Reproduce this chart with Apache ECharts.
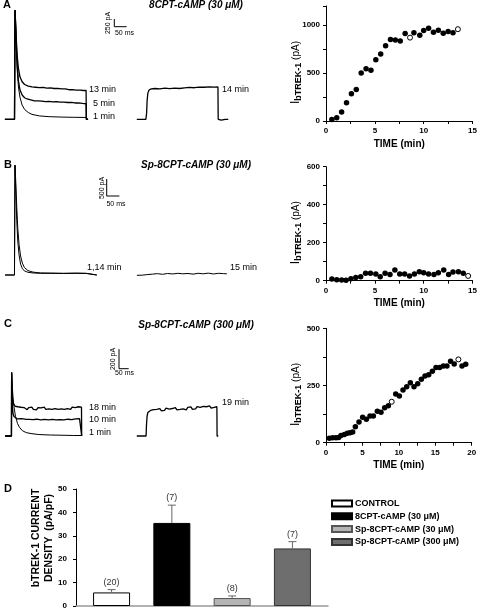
<!DOCTYPE html>
<html><head><meta charset="utf-8">
<script src="https://cdn.jsdelivr.net/npm/echarts@6/dist/echarts.min.js"></script>
<style>html,body{margin:0;padding:0;background:#fff}#c{width:480px;height:610px}</style>
</head><body><div id="c"></div>
<script>
// ---------------- DATA ----------------
// Panel A current traces (ms, pA)
const traceA1 = [[20,0],[59,0],[61,3550],[64,2900],[67,2200],[70,1600],[75,1050],[81,720],[90,460],[100,320],[115,220],[130,160],[160,110],[200,85],[260,70],[300,65],[350,60],[351,0],[358,0]];
const traceA5 = [[20,0],[59,0],[61,3550],[64,2950],[67,2300],[70,1750],[75,1250],[81,960],[90,790],[100,700],[110,660],[125,630],[140,600],[155,595],[170,590],[185,575],[200,585],[215,565],[230,575],[245,555],[260,560],[275,545],[290,550],[305,530],[320,535],[335,515],[350,505],[351,0],[358,0]];
const traceA13 = [[20,0],[59,0],[61,3550],[64,3050],[67,2500],[70,2050],[75,1650],[81,1380],[90,1220],[100,1130],[115,1080],[130,1050],[145,1040],[160,1030],[175,1035],[190,1015],[205,1020],[220,1000],[235,1005],[250,985],[265,990],[280,960],[295,965],[310,945],[325,950],[340,935],[350,940],[351,0],[358,0]];
const traceA14 = [[556,0],[593,0],[596,200],[598,600],[601,850],[606,950],[615,990],[630,1000],[650,985],[670,1010],[690,995],[710,1015],[730,1000],[750,1020],[770,1035],[790,1025],[810,1045],[830,1040],[850,1055],[870,1045],[886,1050],[887,0],[900,-30],[915,0],[928,0]];
// Panel B current traces (ms, pA)
const traceB1 = [[20,0],[57,0],[59,3230],[62,2500],[66,1600],[70,1000],[75,590],[81,320],[88,190],[96,120],[110,80],[130,60],[160,50],[200,50],[250,45],[300,50],[340,45],[342,0],[381,0]];
const traceB14 = [[20,0],[57,0],[59,3230],[62,2750],[66,2000],[70,1380],[75,900],[81,560],[88,350],[96,220],[110,130],[130,85],[160,60],[200,55],[250,50],[300,55],[340,50],[342,0],[381,0]];
const traceB15 = [[539,-10],[560,-5],[578,10],[585,30],[600,25],[620,40],[640,20],[660,45],[680,30],[700,50],[720,35],[740,45],[760,25],[780,50],[800,35],[820,55],[840,30],[860,50],[880,40],[893,35]];
// Panel C current traces (ms, pA)
const traceC1 = [[26,0],[59,0],[60,650],[63,520],[67,400],[72,300],[80,200],[90,130],[100,90],[115,55],[135,35],[160,25],[200,15],[260,10],[320,8],[380,5],[420,5],[421,0]];
const traceC10 = [[26,0],[59,0],[60,650],[62,420],[64,300],[67,230],[72,200],[80,185],[90,175],[100,165],[110,178],[120,160],[130,172],[140,158],[150,170],[160,155],[170,168],[180,160],[190,172],[200,155],[210,165],[220,158],[230,170],[240,152],[250,165],[260,160],[270,170],[280,150],[290,165],[300,158],[310,168],[320,155],[330,165],[340,160],[350,172],[360,158],[370,168],[380,162],[390,175],[400,165],[410,178],[420,175],[421,0]];
const traceC18 = [[26,0],[59,0],[60,650],[62,500],[64,400],[67,340],[72,320],[78,305],[85,290],[92,300],[100,280],[108,295],[116,275],[124,292],[132,283],[140,270],[148,292],[156,278],[164,296],[172,272],[180,288],[188,268],[196,292],[204,278],[212,288],[220,268],[228,296],[236,272],[244,288],[252,278],[260,292],[268,272],[276,288],[284,282],[292,296],[300,272],[308,288],[316,278],[324,296],[332,272],[340,292],[348,282],[356,288],[364,272],[372,296],[380,278],[388,292],[396,282],[404,300],[412,286],[420,296],[421,0]];
const traceC19 = [[705,0],[753,0],[755,110],[758,200],[762,240],[768,252],[776,262],[784,250],[792,270],[800,255],[808,274],[816,260],[824,280],[832,258],[840,272],[848,262],[856,285],[864,266],[872,276],[880,262],[888,282],[896,272],[904,292],[912,268],[920,282],[928,272],[936,292],[944,278],[952,288],[960,268],[968,294],[976,278],[984,298],[992,274],[1000,288],[1008,278],[1016,302],[1024,284],[1032,294],[1040,280],[1048,304],[1056,286],[1064,300],[1072,290],[1080,308],[1088,286],[1096,304],[1104,294],[1112,308],[1118,300],[1119,0],[1125,0]];

// Time courses (min, pA): filled = bTREK-1 current, open = traces shown
const courseAFilled = [[0.6,15],[1.1,35],[1.6,95],[2.1,190],[2.6,285],[3.1,330],[3.6,500],[4.1,545],[4.6,530],[5.1,640],[5.6,700],[6.1,785],[6.6,850],[7.1,845],[7.6,835],[8.1,912],[9.0,922],[9.6,895],[10.0,945],[10.5,968],[11.0,927],[11.5,948],[12.0,915],[12.5,933],[13.0,920]];
const courseAOpen = [[8.6,870],[13.5,958]];
const courseBFilled = [[0.6,9],[1.1,5],[1.6,3.5],[2.05,2],[2.55,10],[3.05,17],[3.55,21],[4.05,39],[4.55,39],[5.1,35],[5.55,21],[6.05,39],[6.55,33],[7.05,56],[7.55,35],[8.05,35],[8.55,25],[9.05,35],[9.55,47],[10.0,42],[10.5,35],[11.05,32],[11.5,42],[12.05,56],[12.55,33],[13.0,46],[13.55,47],[14.05,39]];
const courseBOpen = [[14.55,25]];
const courseCFilled = [[0.46,19],[0.92,22],[1.37,22],[1.74,23],[2.06,32],[2.52,36],[2.93,41],[3.3,44],[3.66,47],[4.03,70],[4.53,90],[5.03,111],[5.54,103],[6.04,117],[6.5,117],[7.05,138],[7.55,133],[8.05,153],[8.56,162],[9.57,213],[10.07,204],[10.57,230],[11.08,245],[11.58,262],[12.08,245],[12.59,258],[13.09,277],[13.59,292],[14.1,297],[14.6,312],[15.1,329],[15.6,329],[16.1,335],[16.6,335],[17.1,356],[17.6,344],[18.67,335],[19.18,343]];
const courseCOpen = [[9.02,179],[18.17,364]];

// Panel D: current density
const groups = ['CONTROL', '8CPT-cAMP (30 \u03bcM)', 'Sp-8CPT-cAMP (30 \u03bcM)', 'Sp-8CPT-cAMP (300 \u03bcM)'];
const densityMean = [5.8, 35.5, 3.4, 24.6];
const densitySem = [1.2, 7.6, 0.9, 2.9];
const cellCounts = [20, 7, 8, 7];

// ---------------- LAYOUT ----------------
const FONT = 'Liberation Sans, Arial, Helvetica, sans-serif';
const groupColors = ['#ffffff', '#000000', '#b4b4b4', '#6e6e6e'];
const groupBorders = ['#000000', '#000000', '#555555', '#333333'];

// trace panel scales (px per unit from scale bars)
const TR = [
  {top:0, height:135, base:119.3, msPx:50/12.3, paPx:250/7.7, bar:{x:114.3, y:26.7, dt:50, di:250}},
  {top:140, height:145, base:275, msPx:50/12.7, paPx:500/17, bar:{x:106.7, y:196, dt:50, di:500}},
  {top:290, height:150, base:436, msPx:50/9.7, paPx:200/19.5, bar:{x:119, y:368.7, dt:50, di:200}}
];

const grids = [], xAxes = [], yAxes = [], series = [];
TR.forEach((p, i) => {
  grids.push({left:0, top:p.top, width:290, height:p.height});
  xAxes.push({type:'value', gridIndex:i, min:0, max:290*p.msPx, show:false});
  yAxes.push({type:'value', gridIndex:i, min:-(p.top+p.height-p.base)*p.paPx, max:(p.base-p.top)*p.paPx, show:false});
  const t0 = p.bar.x*p.msPx, i0 = (p.base-p.bar.y)*p.paPx;
  series.push({type:'line', xAxisIndex:i, yAxisIndex:i, showSymbol:false, symbol:'none', silent:true,
    lineStyle:{color:'#000', width:1}, data:[[t0, i0+p.bar.di],[t0, i0],[t0+p.bar.dt, i0]]});
});
function trace(data, gi, w) {
  return {type:'line', xAxisIndex:gi, yAxisIndex:gi, data:data, showSymbol:false, symbol:'none', silent:true,
    lineStyle:{color:'#000', width:w||1}};
}
series.push(trace(traceA1,0,1), trace(traceA5,0,1.3), trace(traceA13,0,1.3), trace(traceA14,0,1.3));
series.push(trace(traceB1,1,1), trace(traceB14,1,1), trace(traceB15,1,1));
series.push(trace(traceC1,2,1), trace(traceC10,2,1.3), trace(traceC18,2,1.3), trace(traceC19,2,1.3));

// scatter grids
const SC = [
  {top:6, height:115, xmax:15, ymax:1200, yint:250, ylab:500, filled:courseAFilled, open:courseAOpen},
  {top:166.7, height:114, xmax:15, ymax:600, yint:100, ylab:200, filled:courseBFilled, open:courseBOpen},
  {top:328.3, height:114.4, xmax:20, ymax:500, yint:125, ylab:250, filled:courseCFilled, open:courseCOpen}
];
SC.forEach((s, k) => {
  const gi = 3 + k;
  grids.push({left:326, top:s.top, width: s.xmax===15 ? 146.7 : 145.7, height:s.height});
  xAxes.push({type:'value', gridIndex:gi, min:0, max:s.xmax, interval:2.5,
    axisLine:{show:true, onZero:false, lineStyle:{color:'#000', width:1}},
    axisTick:{show:true, length:3, lineStyle:{color:'#000'}},
    splitLine:{show:false},
    axisLabel:{formatter:v => (v % 5 === 0 ? String(v) : ''), fontSize:8, fontWeight:'bold', color:'#000', fontFamily:FONT, margin:6, showMaxLabel:true},
    name:'TIME (min)', nameLocation:'middle', nameGap:18, nameMoveOverlap:false,
    nameTextStyle:{fontSize:10, fontWeight:'bold', color:'#000', fontFamily:FONT}});
  yAxes.push({type:'value', gridIndex:gi, min:0, max:s.ymax, interval:s.yint,
    axisLine:{show:true, onZero:false, lineStyle:{color:'#000', width:1}},
    axisTick:{show:true, length:3, lineStyle:{color:'#000'}},
    splitLine:{show:false},
    axisLabel:{formatter:v => (v % s.ylab === 0 ? String(v) : ''), fontSize:8, fontWeight:'bold', color:'#000', fontFamily:FONT, margin:6},
    name:'{i|I}{s|bTREK-1}{n| (pA)}', nameLocation:'middle', nameGap:23, nameRotate:90, nameMoveOverlap:false,
    nameTextStyle:{fontFamily:FONT, color:'#000', padding:[0,18,0,0], rich:{
      i:{fontSize:12, fontFamily:FONT, color:'#000', lineHeight:14},
      s:{fontSize:9, fontWeight:'bold', fontFamily:FONT, color:'#000', verticalAlign:'bottom', lineHeight:14, padding:[4,0,0,0]},
      n:{fontSize:10, fontFamily:FONT, color:'#000', lineHeight:14}}}});
  series.push({type:'scatter', xAxisIndex:gi, yAxisIndex:gi, data:s.filled, symbol:'circle', symbolSize:5.5,
    itemStyle:{color:'#000', opacity:1}, silent:true});
  series.push({type:'scatter', xAxisIndex:gi, yAxisIndex:gi, data:s.open, symbol:'circle', symbolSize:5,
    itemStyle:{color:'#fff', borderColor:'#000', borderWidth:1, opacity:1}, silent:true});
});

// bar chart grid
grids.push({left:76, top:489, width:252, height:117});
xAxes.push({type:'value', gridIndex:6, min:0.41, max:4.59, show:true,
  axisLine:{onZero:false, lineStyle:{color:'#999', width:1.5}}, axisTick:{show:false}, axisLabel:{show:false}, splitLine:{show:false}});
yAxes.push({type:'value', gridIndex:6, min:0, max:50, interval:10,
  axisLine:{show:true, onZero:false, lineStyle:{color:'#000', width:1}},
  axisTick:{show:true, length:3, lineStyle:{color:'#000'}},
  splitLine:{show:false},
  axisLabel:{fontSize:8, fontWeight:'bold', color:'#000', fontFamily:FONT, margin:9},
  name:'bTREK-1 CURRENT\nDENSITY  (pA/pF)', nameLocation:'middle', nameGap:20, nameRotate:90, nameMoveOverlap:false,
  nameTextStyle:{fontSize:10.5, fontWeight:'bold', color:'#000', fontFamily:FONT, lineHeight:13, padding:[0,0,0,19]}});
groups.forEach((g, k) => {
  series.push({type:'bar', name:g, xAxisIndex:6, yAxisIndex:6, data:[[k+1, densityMean[k]]], barWidth:37, barGap:'-100%',
    itemStyle:{color:groupColors[k], borderColor:groupBorders[k], borderWidth:1}, silent:true});
});
series.push({type:'custom', xAxisIndex:6, yAxisIndex:6, silent:true, z:5,
  data: groups.map((g, k) => [k+1, densityMean[k], densitySem[k], cellCounts[k]]),
  renderItem: function(params, api) {
    const x = api.value(0), m = api.value(1), e = api.value(2), n = api.value(3);
    const p0 = api.coord([x, m]), p1 = api.coord([x, m + e]);
    return {type:'group', children:[
      {type:'line', shape:{x1:p0[0], y1:p0[1], x2:p1[0], y2:p1[1]}, style:{stroke:'#666', lineWidth:1}},
      {type:'line', shape:{x1:p1[0]-4, y1:p1[1], x2:p1[0]+4, y2:p1[1]}, style:{stroke:'#666', lineWidth:1}},
      {type:'text', style:{text:'(' + n + ')', x:p1[0], y:p1[1]-3, align:'center', verticalAlign:'bottom',
        font:'9px ' + FONT, fill:'#333'}}
    ]};
  }});

// text annotations
function txt(s, x, y, o) {
  o = o || {};
  return {type:'text', x:x, y:y, rotation:o.rot||0, silent:true,
    style:{text:s, fill:o.color||'#000', align:o.align||'left', verticalAlign:'middle',
      font:(o.style||'') + ' ' + (o.weight||'normal') + ' ' + (o.size||9) + 'px ' + FONT}};
}
const texts = [
  txt('A', 3, 5, {weight:'bold', size:11}),
  txt('B', 4, 165, {weight:'bold', size:11}),
  txt('C', 4, 324, {weight:'bold', size:11}),
  txt('D', 4, 489, {weight:'bold', size:11}),
  txt('8CPT-cAMP (30 \u03bcM)', 196, 5.5, {weight:'bold', style:'italic', size:10, align:'center'}),
  txt('Sp-8CPT-cAMP (30 \u03bcM)', 196, 165, {weight:'bold', style:'italic', size:10, align:'center'}),
  txt('Sp-8CPT-cAMP (300 \u03bcM)', 196, 325, {weight:'bold', style:'italic', size:10, align:'center'}),
  txt('13 min', 89, 90, {}), txt('5 min', 93, 104, {}), txt('1 min', 93, 117, {}), txt('14 min', 222, 90, {}),
  txt('1,14 min', 87, 268, {}), txt('15 min', 230, 268, {}),
  txt('18 min', 89, 408, {}), txt('10 min', 89, 420, {}), txt('1 min', 89, 433, {}), txt('19 min', 222, 403, {}),
  txt('250 pA', 108, 23, {size:7, rot:Math.PI/2, align:'center'}),
  txt('50 ms', 124.5, 33.5, {size:7, align:'center'}),
  txt('500 pA', 101.7, 188, {size:7, rot:Math.PI/2, align:'center'}),
  txt('50 ms', 116, 204, {size:7, align:'center'}),
  txt('200 pA', 113.3, 359, {size:7, rot:Math.PI/2, align:'center'}),
  txt('50 ms', 124.5, 373.5, {size:7, align:'center'})
];

const chart = echarts.init(document.getElementById('c'), null, {renderer:'canvas'});
chart.setOption({
  animation:false,
  backgroundColor:'#fff',
  grid:grids, xAxis:xAxes, yAxis:yAxes, series:series,
  legend:{data:groups, orient:'vertical', left:326, top:494, itemWidth:20, itemHeight:6, itemGap:3.8,
    icon:'rect', selectedMode:false,
    textStyle:{fontSize:9, fontWeight:'bold', color:'#000', fontFamily:FONT, padding:[0,0,0,-2]}},
  graphic:texts
});
</script></body></html>
